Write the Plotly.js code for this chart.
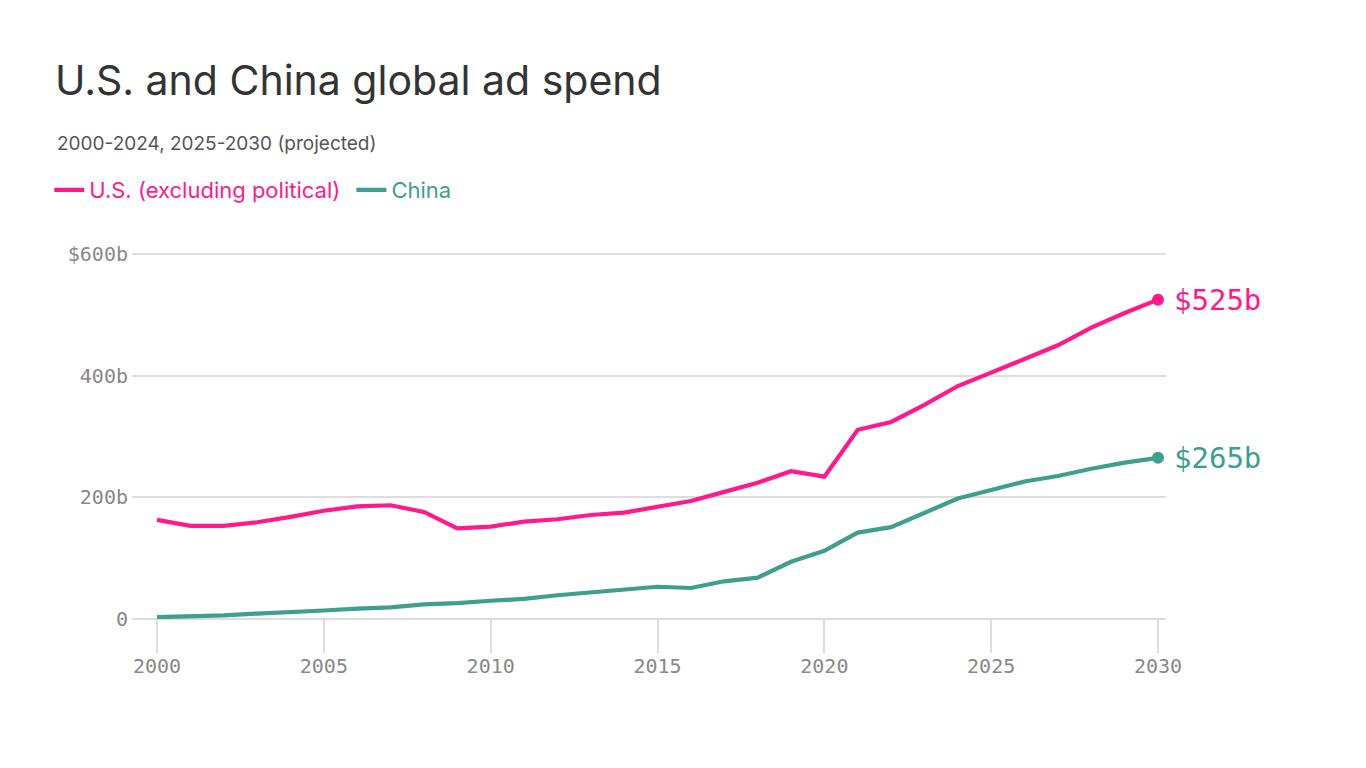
<!DOCTYPE html>
<html>
<head>
<meta charset="utf-8">
<script src="https://cdn.plot.ly/plotly-3.0.1.min.js"></script>
<style>
  html, body { margin: 0; padding: 0; background: #fff; }
  #chart { width: 1366px; height: 768px; }
</style>
</head>
<body>
<div id="chart"></div>
<script>
// Annual ad spend, billions of US dollars (2025 onward projected)
const years = [2000, 2001, 2002, 2003, 2004, 2005, 2006, 2007, 2008, 2009,
               2010, 2011, 2012, 2013, 2014, 2015, 2016, 2017, 2018, 2019,
               2020, 2021, 2022, 2023, 2024, 2025, 2026, 2027, 2028, 2029, 2030];
const usSpend = [163, 153, 153, 159, 168, 178, 185, 187, 176, 149,
                 152, 160, 164, 171, 175, 185, 194, 209, 224, 243,
                 234, 311, 324, 352, 383, 405, 427, 450, 479, 503, 525];
const chinaSpend = [3, 4, 6, 9, 11, 14, 17, 19, 24, 26,
                    30, 33, 39, 44, 48, 53, 51, 62, 68, 94,
                    112, 142, 151, 175, 198, 212, 226, 235, 247, 257, 265];

const seriesNames = ["U.S. (excluding political)", "China"];
const seriesColors = ["#ff1a8c", "#3f9e8e"];

const yTickVals = [0, 200, 400, 600];
const yTickText = ["0", "200b", "400b", "$600b"];
const xTickVals = [2000, 2005, 2010, 2015, 2020, 2025, 2030];

const mono = "'DejaVu Sans Mono', 'Liberation Mono', monospace";
const sans = "Inter, 'Noto Sans', sans-serif";

const allSeries = [usSpend, chinaSpend];
const traces = [];
allSeries.forEach((vals, i) => {
  traces.push({
    x: years, y: vals, type: "scatter", mode: "lines",
    name: `<span style="color:${seriesColors[i]}">${seriesNames[i]}</span>&nbsp;`,
    line: { color: seriesColors[i], width: 4.2 },
    hoverinfo: "x+y"
  });
});
allSeries.forEach((vals, i) => {
  traces.push({
    x: [years[years.length - 1]], y: [vals[vals.length - 1]],
    type: "scatter", mode: "markers", showlegend: false,
    marker: { color: seriesColors[i], size: 12 },
    hoverinfo: "x+y"
  });
});

const endLabels = allSeries.map((vals, i) => ({
  x: years[years.length - 1], y: vals[vals.length - 1],
  xref: "x", yref: "y", xanchor: "left", yanchor: "middle",
  xshift: 14, showarrow: false,
  text: `$${vals[vals.length - 1]}b`,
  font: { family: mono, size: 29, color: seriesColors[i] }
}));

const layout = {
  width: 1366, height: 768,
  paper_bgcolor: "#fff", plot_bgcolor: "#fff",
  margin: { l: 132, r: 200, t: 251, b: 149 },
  title: {
    text: "U.S. and China global ad spend",
    font: { family: sans, size: 41, color: "#333" },
    x: 55 / 1366, xanchor: "left", xref: "container",
    y: 1 - 81 / 768, yanchor: "middle", yref: "container"
  },
  showlegend: true,
  legend: {
    orientation: "h", x: -0.08, xanchor: "left", y: 1 + 61 / 368, yanchor: "middle",
    font: { family: sans, size: 22, color: "#333" },
    itemwidth: 30, tracegroupgap: 0, bgcolor: "rgba(0,0,0,0)"
  },
  xaxis: {
    range: [1999.25, 2030.24],
    tickvals: xTickVals,
    showgrid: false, zeroline: false, showline: false,
    ticks: "outside", ticklen: 33, tickcolor: "#dddddd", tickwidth: 1.5,
    ticklabelstandoff: -4,
    tickfont: { family: mono, size: 20, color: "#888" },
    fixedrange: true
  },
  yaxis: {
    range: [0, 605],
    tickvals: yTickVals, ticktext: yTickText,
    showgrid: true, gridcolor: "#dddddd", gridwidth: 1.5,
    zeroline: true, zerolinecolor: "#dddddd", zerolinewidth: 1.5,
    showline: false, ticks: "",
    ticklabelstandoff: 3,
    tickfont: { family: mono, size: 20, color: "#888" },
    fixedrange: true
  },
  annotations: [
    {
      text: "2000-2024, 2025-2030 (projected)",
      xref: "paper", yref: "paper",
      x: (55 - 132) / 1034, y: 1 + (251 - 143) / 368,
      xanchor: "left", yanchor: "middle", showarrow: false,
      font: { family: sans, size: 19, color: "#555" }
    },
    ...endLabels
  ]
};

Plotly.newPlot("chart", traces, layout, { displayModeBar: false, responsive: false });
</script>
</body>
</html>
